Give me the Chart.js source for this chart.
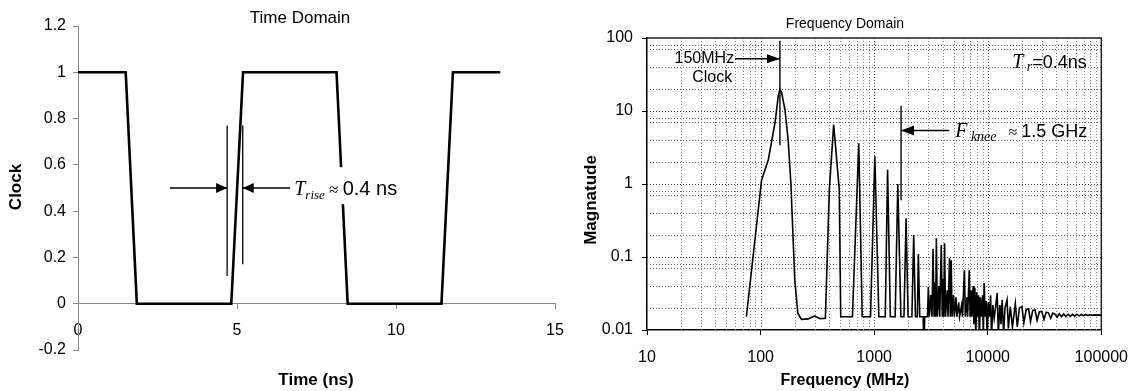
<!DOCTYPE html>
<html>
<head>
<meta charset="utf-8">
<script src="https://cdn.jsdelivr.net/npm/chart.js@4"></script>
<style>
  html, body { margin: 0; padding: 0; background: #fff; }
  #left  { position: absolute; left: 0;     top: 0; width: 580px; height: 391px; }
  #right { position: absolute; left: 560px; top: 0; width: 581px; height: 391px; }
</style>
</head>
<body>
<div id="left"><canvas id="timeChart"></canvas></div>
<div id="right"><canvas id="freqChart"></canvas></div>
<script>
// time domain clock waveform (ns / level)
const timeNs     = [0, 1.5, 1.85, 4.82, 5.19, 8.13, 8.48, 11.43, 11.79, 13.28];
const clockLevel = [1, 1,   0,    0,    1,    1,    0,    0,     1,     1];
const timeTicks = [0, 5, 10, 15];
const clockTicks = [-0.2, 0, 0.2, 0.4, 0.6, 0.8, 1, 1.2];
const clockTickLabels = ['-0.2', '0', '0.2', '0.4', '0.6', '0.8', '1', '1.2'];

// frequency domain spectrum (MHz / magnitude)
const spectrumFreq = [
  75, 102, 117, 134, 143, 148, 153, 164, 175, 185, 200, 213, 229, 262, 298, 335, 372,
  403, 440, 493, 508, 644, 732, 785, 929, 1014, 1100, 1253, 1313, 1388, 1531, 1615, 1720,
  1830, 1910, 1990, 2150, 2230, 2310, 2400, 2450, 2520, 2700, 2740, 2790, 2950,
  3000, 3060, 3150, 3230, 3300, 3370, 3440, 3480, 3530, 3600, 3720, 3780, 3900, 3980,
  4060, 4100, 4170, 4250, 4400, 4470, 4610, 4680, 4770, 4850, 5000, 5080, 5250, 5350,
  5550, 5650, 5900, 6000, 6230, 6350, 6550, 6650, 6880, 7000, 7150, 7250, 7450, 7550,
  7700, 7850, 8000, 8150, 8300, 8450, 8600, 8800, 9000, 9150, 9300, 9500, 9700, 9900,
  10100, 10350, 10600, 10800, 11100, 11400, 11700, 12100, 12400, 12800, 13100, 13400,
  13800, 14200, 14800, 15200, 15800, 16500, 17500, 18200, 19000, 20000, 20800, 21800,
  22900, 23800, 24900, 26100, 27200, 28500, 29900, 31300, 32700, 34200, 35800, 37300,
  39000, 40800, 42600, 44600, 46600, 48800, 51000, 53400, 55800, 58300, 61000, 63800,
  66700, 69700, 72900, 76200, 79700, 83300, 87100, 91100, 95200, 100000
];
const spectrumMag = [
  0.0152, 1.13, 2.15, 6.9, 16, 20, 18, 10.4, 4.0, 1.0, 0.048, 0.017, 0.014, 0.0142, 0.0156, 0.0143, 0.0145,
  0.83, 6.5, 0.83, 0.0152, 0.0152, 3.6, 0.0152, 0.0152, 2.4, 0.0152, 0.0152, 1.57, 0.0152, 0.0152, 1.0, 0.0152,
  0.0152, 0.34, 0.0152, 0.0152, 0.2, 0.0152, 0.0152, 0.11, 0.0152, 0.0152, 0.006, 0.0152, 0.0152,
  0.039, 0.0152, 0.03, 0.0152, 0.13, 0.0152, 0.045, 0.0152, 0.18, 0.0152, 0.04, 0.0152, 0.146, 0.0152,
  0.05, 0.0152, 0.154, 0.0152, 0.035, 0.0152, 0.096, 0.0152, 0.09, 0.0152, 0.03, 0.0152, 0.028, 0.0152,
  0.024, 0.0152, 0.022, 0.0152, 0.066, 0.0152, 0.028, 0.0152, 0.066, 0.0152, 0.035, 0.0152, 0.04, 0.012,
  0.038, 0.008, 0.033, 0.0152, 0.03, 0.007, 0.028, 0.0152, 0.03, 0.008, 0.044, 0.0152, 0.025, 0.007,
  0.024, 0.0152, 0.030, 0.008, 0.022, 0.0145, 0.02, 0.032, 0.009, 0.022, 0.012, 0.026,
  0.009, 0.02, 0.026, 0.0105, 0.021, 0.011, 0.023, 0.011, 0.02, 0.021, 0.0125, 0.019,
  0.0195, 0.013, 0.0185, 0.0188, 0.0135, 0.0178, 0.018, 0.014, 0.0175, 0.0172, 0.0145, 0.017,
  0.0165, 0.015, 0.0167, 0.0152, 0.0166, 0.0153, 0.0165, 0.0154, 0.0164, 0.0155, 0.0164, 0.0156,
  0.0163, 0.0157, 0.0162, 0.0158, 0.0162, 0.0159, 0.0161, 0.016, 0.0161, 0.016
];
const freqTicks = [10, 100, 1000, 10000, 100000];
const freqTickLabels = ['10', '100', '1000', '10000', '100000'];
const magTicks = [0.01, 0.1, 1, 10, 100];
const magTickLabels = ['0.01', '0.1', '1', '10', '100'];
const freqMinorSteps = [2, 3, 4, 5, 6, 7, 8, 9];
const magMinorSteps = [2, 4, 7, 8];

const SANS = "'Liberation Sans', Arial, sans-serif";
const SERIF = "'Liberation Serif', 'Times New Roman', serif";

Chart.defaults.font.family = SANS;
Chart.defaults.color = '#000';

// line + filled arrow head at (x2, y2)
function arrow(ctx, x1, y1, x2, y2, len, half) {
  ctx.beginPath();
  ctx.moveTo(x1, y1);
  ctx.lineTo(x2, y2);
  ctx.stroke();
  const a = Math.atan2(y2 - y1, x2 - x1);
  const bx = x2 - len * Math.cos(a), by = y2 - len * Math.sin(a);
  ctx.beginPath();
  ctx.moveTo(x2, y2);
  ctx.lineTo(bx + half * Math.sin(a), by - half * Math.cos(a));
  ctx.lineTo(bx - half * Math.sin(a), by + half * Math.cos(a));
  ctx.closePath();
  ctx.fill();
}

// text made of several font runs on one baseline
function runs(ctx, x, y, parts) {
  ctx.textAlign = 'left';
  ctx.textBaseline = 'alphabetic';
  parts.forEach(([t, f, dy]) => {
    ctx.font = f;
    ctx.fillText(t, x, y + dy);
    x += ctx.measureText(t).width;
  });
}

function vline(ctx, px, py1, py2) {
  ctx.beginPath();
  ctx.moveTo(px, py1);
  ctx.lineTo(px, py2);
  ctx.stroke();
}

function label(ctx, text, x, y, font, rot) {
  ctx.save();
  ctx.translate(x, y);
  if (rot) ctx.rotate(-Math.PI / 2);
  ctx.font = font;
  ctx.textAlign = 'center';
  ctx.textBaseline = 'middle';
  ctx.fillText(text, 0, 0);
  ctx.restore();
}

const timeDecor = {
  id: 'timeDecor',
  afterDatasetsDraw(chart) {
    const {ctx, scales: {x, y}} = chart;
    ctx.save();
    // label box hides the falling edge behind it
    const bx1 = x.getPixelForValue(6.75), bx2 = x.getPixelForValue(10.3);
    const by1 = y.getPixelForValue(0.59), by2 = y.getPixelForValue(0.43);
    ctx.fillStyle = '#fff';
    ctx.fillRect(bx1, by1, bx2 - bx1, by2 - by1);

    ctx.strokeStyle = '#000';
    ctx.fillStyle = '#000';
    ctx.lineWidth = 1.3;
    vline(ctx, x.getPixelForValue(4.69), y.getPixelForValue(0.12), y.getPixelForValue(0.77));
    vline(ctx, x.getPixelForValue(5.18), y.getPixelForValue(0.17), y.getPixelForValue(0.77));
    const ay = y.getPixelForValue(0.5);
    arrow(ctx, x.getPixelForValue(2.89), ay, x.getPixelForValue(4.69), ay, 11, 5);
    arrow(ctx, x.getPixelForValue(6.67), ay, x.getPixelForValue(5.18), ay, 11, 5);

    runs(ctx, x.getPixelForValue(6.8), ay + 7, [
      ['T', 'italic 20px ' + SERIF, 0],
      ['rise', 'italic 13px ' + SERIF, 4],
      [' \u2248 ', '17px ' + SERIF, 0],
      ['0.4 ns', '20px ' + SANS, 0]
    ]);
    ctx.restore();
  },
  afterDraw(chart) {
    const ctx = chart.ctx;
    ctx.save();
    ctx.fillStyle = '#000';
    label(ctx, 'Time Domain', 300, 18, '17px ' + SANS);
    label(ctx, 'Clock', 16, 187, 'bold 17px ' + SANS, true);
    label(ctx, 'Time (ns)', 316, 380, 'bold 17px ' + SANS);
    ctx.restore();
  }
};

const freqDecor = {
  id: 'freqDecor',
  beforeDatasetsDraw(chart) {
    const {ctx, chartArea: a, scales: {x, y}} = chart;
    ctx.save();
    ctx.lineWidth = 1;
    ctx.setLineDash([1, 2]);
    // vertical grid
    freqTicks.forEach(d => {
      [1].concat(freqMinorSteps).forEach(m => {
        const v = d * m;
        if (v <= 10 || v >= 100000) return;
        const px = Math.round(x.getPixelForValue(v)) + 0.5;
        ctx.strokeStyle = m === 1 ? '#444' : '#888';
        vline(ctx, px, a.top, a.bottom);
      });
    });
    // horizontal grid
    magTicks.forEach(d => {
      [1].concat(magMinorSteps).forEach(m => {
        const v = d * m;
        if (v <= 0.01 || v >= 100) return;
        const py = Math.round(y.getPixelForValue(v)) + 0.5;
        ctx.strokeStyle = m === 1 ? '#333' : '#666';
        ctx.beginPath();
        ctx.moveTo(a.left, py);
        ctx.lineTo(a.right, py);
        ctx.stroke();
      });
    });
    ctx.setLineDash([]);
    ctx.strokeStyle = '#222';
    ctx.lineWidth = 1.5;
    ctx.beginPath();
    ctx.moveTo(a.left, a.top);
    ctx.lineTo(a.right, a.top);
    ctx.lineTo(a.right, a.bottom);
    ctx.stroke();
    ctx.restore();
  },
  afterDatasetsDraw(chart) {
    const {ctx, scales: {x, y}} = chart;
    ctx.save();
    ctx.strokeStyle = '#000';
    ctx.fillStyle = '#000';
    ctx.lineWidth = 1.4;
    // 150 MHz clock marker
    const cx = x.getPixelForValue(148);
    vline(ctx, cx, y.getPixelForValue(3.4), y.getPixelForValue(92));
    const cy = y.getPixelForValue(52);
    arrow(ctx, x.getPixelForValue(59.5), cy, cx, cy, 13, 4.5);
    ctx.font = '16px ' + SANS;
    ctx.textAlign = 'right';
    ctx.textBaseline = 'middle';
    ctx.fillText('150MHz', x.getPixelForValue(58.5), cy);
    ctx.textAlign = 'center';
    ctx.fillText('Clock', x.getPixelForValue(37.5), y.getPixelForValue(28.6));

    // knee frequency marker
    const kx = x.getPixelForValue(1726);
    vline(ctx, kx, y.getPixelForValue(0.6), y.getPixelForValue(11.8));
    const ky = y.getPixelForValue(5.4);
    arrow(ctx, x.getPixelForValue(4580), ky, kx, ky, 13, 5);
    runs(ctx, x.getPixelForValue(5170), ky + 6, [
      ['F', 'italic 20px ' + SERIF, 0],
      [' knee', 'italic 14px ' + SERIF, 4],
      ['   \u2248 ', '16px ' + SERIF, 0],
      ['1.5 GHz', '18px ' + SANS, 0]
    ]);

    runs(ctx, x.getPixelForValue(16400), y.getPixelForValue(47.3) + 6, [
      ['T', 'italic 20px ' + SERIF, 0],
      [' r', 'italic 14px ' + SERIF, 3],
      ['=0.4ns', '18px ' + SANS, 0]
    ]);
    ctx.restore();
  },
  afterDraw(chart) {
    const ctx = chart.ctx;
    ctx.save();
    ctx.fillStyle = '#000';
    label(ctx, 'Frequency Domain', 285, 24, '14px ' + SANS);
    label(ctx, 'Magnatude', 31, 200, 'bold 17px ' + SANS, true);
    label(ctx, 'Frequency (MHz)', 285, 381, 'bold 16px ' + SANS);
    ctx.restore();
  }
};

new Chart(document.getElementById('timeChart'), {
  type: 'line',
  data: {
    datasets: [{
      data: timeNs.map((t, i) => ({x: t, y: clockLevel[i]})),
      borderColor: '#000',
      borderWidth: 2.6,
      pointRadius: 0,
      tension: 0
    }]
  },
  options: {
    responsive: true,
    maintainAspectRatio: false,
    animation: false,
    layout: {padding: {top: 26, right: 25, bottom: 41, left: 0}},
    plugins: {legend: {display: false}, tooltip: {enabled: false}},
    scales: {
      x: {
        type: 'linear',
        min: 0,
        max: 15,
        position: {y: 0},
        afterBuildTicks: s => { s.ticks = timeTicks.map(v => ({value: v})); },
        ticks: {font: {size: 16}, color: '#000', padding: 12, maxRotation: 0, callback: v => String(v)},
        grid: {drawOnChartArea: false, tickLength: 5, color: '#888'},
        border: {color: '#888', width: 1}
      },
      y: {
        type: 'linear',
        min: -0.2,
        max: 1.2,
        afterBuildTicks: s => { s.ticks = clockTicks.map(v => ({value: v})); },
        afterFit: s => { s.width = 78; },
        ticks: {font: {size: 16}, color: '#000', padding: 7, callback: (v, i) => clockTickLabels[i]},
        grid: {drawOnChartArea: false, tickLength: 5, color: '#888'},
        border: {color: '#888', width: 1}
      }
    }
  },
  plugins: [timeDecor]
});

new Chart(document.getElementById('freqChart'), {
  type: 'line',
  data: {
    datasets: [{
      data: spectrumFreq.map((f, i) => ({x: f, y: spectrumMag[i]})),
      borderColor: '#000',
      borderWidth: 1.6,
      pointRadius: 0,
      tension: 0
    }]
  },
  options: {
    responsive: true,
    maintainAspectRatio: false,
    animation: false,
    layout: {padding: {top: 38, right: 34, bottom: 0, left: 0}},
    plugins: {legend: {display: false}, tooltip: {enabled: false}},
    scales: {
      x: {
        type: 'logarithmic',
        min: 10,
        max: 100000,
        afterBuildTicks: s => { s.ticks = freqTicks.map(v => ({value: v})); },
        afterFit: s => { s.height = 61; },
        ticks: {font: {size: 16}, color: '#000', padding: 13, maxRotation: 0, callback: (v, i) => freqTickLabels[i]},
        grid: {drawOnChartArea: false, tickLength: 5, color: '#000'},
        border: {color: '#000', width: 1.5}
      },
      y: {
        type: 'logarithmic',
        min: 0.01,
        max: 100,
        afterBuildTicks: s => { s.ticks = magTicks.map(v => ({value: v})); },
        afterFit: s => { s.width = 87; },
        ticks: {font: {size: 16}, color: '#000', padding: 9, callback: (v, i) => magTickLabels[i]},
        grid: {drawOnChartArea: false, tickLength: 5, color: '#000'},
        border: {color: '#000', width: 1.5}
      }
    }
  },
  plugins: [freqDecor]
});
</script>
</body>
</html>
